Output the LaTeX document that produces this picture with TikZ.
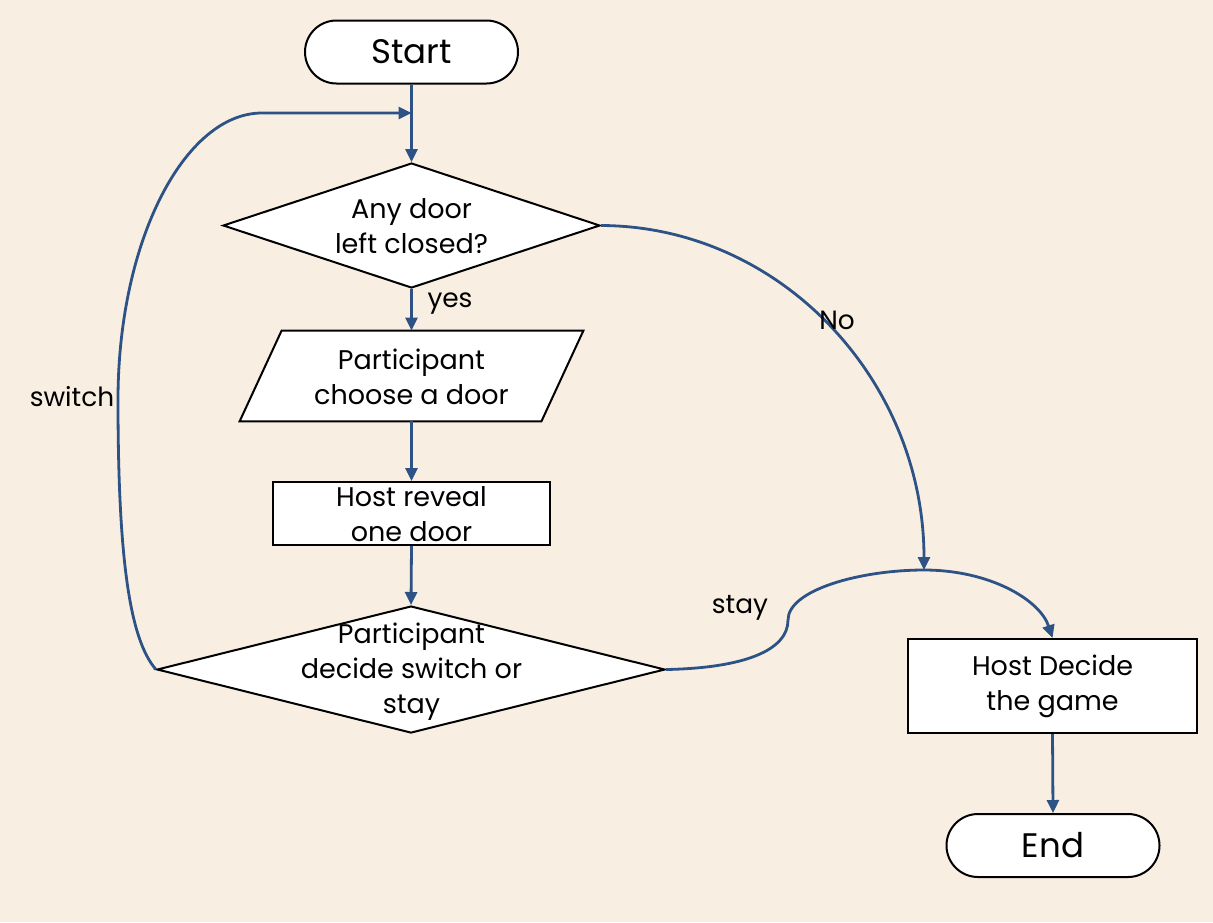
\documentclass[tikz,border=0pt]{standalone}
\usepackage{fontspec}
\setmainfont{Poppins}
\usetikzlibrary{shapes.geometric,arrows.meta,calc}
\definecolor{bgc}{RGB}{248,239,226}
\definecolor{arc}{RGB}{44,82,134}
\begin{document}
\begin{tikzpicture}[x=0.5pt,y=-0.5pt,
  base/.style={draw=black,line width=1pt,fill=white,inner sep=0pt},
  term/.style={base,rounded corners=15.75pt,minimum width=106.5pt,minimum height=31.5pt,font=\fontsize{17}{20}\selectfont},
  txt/.style={align=center,inner sep=0pt,font=\fontsize{13.5}{17.5}\selectfont},
  lbl/.style={inner sep=0pt,font=\fontsize{13.2}{15}\selectfont},
  flow/.style={draw=arc,line width=1.4pt,-{Triangle[length=6.5pt,width=6pt]}},
  flowline/.style={draw=arc,line width=1.4pt}]
\fill[bgc] (0,0) rectangle (1213,922);
\useasboundingbox (0,0) rectangle (1213,922);
% nodes
\node[term] (start) at (411.5,52) {Start};
\node[base,diamond,minimum width=188.5pt,minimum height=62.5pt] (d1) at (411.5,225.5) {};
\node[txt] (d1t) at (411.5,226.5) {Any door\\left closed?};
\node[inner sep=0pt,minimum width=150.5pt,minimum height=45pt] (p) at (411.5,376) {};
\draw[base] ($(p.north west)+(21,0)$) -- ($(p.north east)+(21,0)$) -- ($(p.south east)+(-21,0)$) -- ($(p.south west)+(-21,0)$) -- cycle;
\node[txt] (pt) at (411.5,377) {Participant\\choose a door};
\node[base,rectangle,minimum width=138.5pt,minimum height=31.5pt] (h) at (411.5,513.5) {};
\node[txt] (ht) at (411.5,514) {Host reveal\\one door};
\node[base,diamond,minimum width=254pt,minimum height=63.5pt] (d2) at (411,669.5) {};
\node[txt] (d2t) at (411.5,671.5) {Participant\\decide switch or\\stay};
\node[base,rectangle,minimum width=144.5pt,minimum height=47pt,txt,fill=white,draw=black,line width=1pt] (hd) at (1052.5,686) {Host Decide\\the game};
\node[term] (end) at (1053,845.5) {End};
% joins
\coordinate (j) at (411.5,113);
\coordinate (k) at (924,570);
% connectors
\draw[flowline] (start.south) -- (j);
\draw[flow] (j) -- (d1.north);
\draw[flow] (d1.south) -- (p.north);
\draw[flow] (p.south) -- (h.north);
\draw[flow] (h.south) -- (d2.north);
\draw[flow] (hd.south) -- (end.north);
\draw[flow] (d2.west) .. controls (130,640) and (118,560) .. (118,400) .. controls (118,240) and (185,113) .. (262,113) -- (j);
\draw[flow] (d1.east) .. controls (780,226) and (924,380) .. (k);
\draw[flow] (d2.east) .. controls (745,668) and (788,650) .. (788,620) .. controls (788,590) and (860,570) .. (k) .. controls (990,570) and (1040,600) .. (hd.north);
% labels
\node[lbl] (yes) at (450,304) {yes};
\node[lbl] (no) at (837,320) {No};
\node[lbl] (sw) at (72,397) {switch};
\node[lbl] (st) at (740,608) {stay};
\end{tikzpicture}
\end{document}
